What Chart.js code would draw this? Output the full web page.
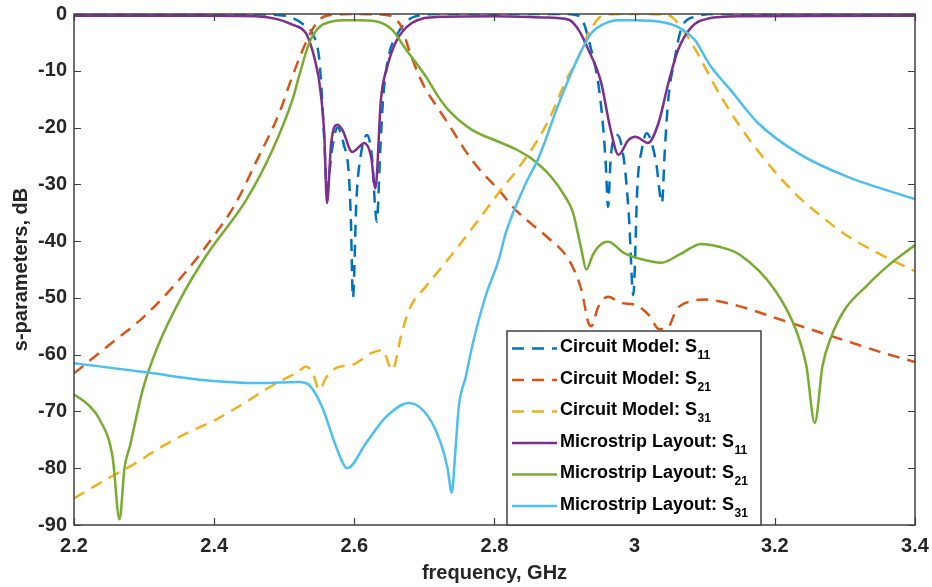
<!DOCTYPE html>
<html>
<head>
<meta charset="utf-8">
<title>s-parameters</title>
<script src="https://cdn.jsdelivr.net/npm/chart.js@4/dist/chart.umd.min.js"></script>
<style>
    body { margin: 0; background: #fff; }
    canvas { display: block; }
</style>
</head>
<body>
<canvas id="sparamChart" width="932" height="587"></canvas>
<script>
// axis ticks
const xTicks = [2.2, 2.4, 2.6, 2.8, 3.0, 3.2, 3.4];
const yTicks = [0, -10, -20, -30, -40, -50, -60, -70, -80, -90];

// legend text
const seriesNames = ["Circuit Model: S", "Circuit Model: S", "Circuit Model: S",
    "Microstrip Layout: S", "Microstrip Layout: S", "Microstrip Layout: S"];
const seriesSubs = ["11", "21", "31", "11", "21", "31"];

// Circuit model S11 (dashed)
const circS11Freq = [2.2, 2.35, 2.48, 2.51, 2.527, 2.54, 2.55, 2.554, 2.557, 2.561, 2.568, 2.576, 2.585, 2.592, 2.595, 2.598, 2.603, 2.609, 2.618, 2.625, 2.632, 2.637, 2.641, 2.648, 2.662, 2.685, 2.72, 2.9, 2.912, 2.925, 2.938, 2.948, 2.955, 2.959, 2.962, 2.966, 2.975, 2.985, 2.992, 2.998, 3.004, 3.01, 3.017, 3.03, 3.039, 3.043, 3.048, 3.057, 3.066, 3.085, 3.12, 3.4];
const circS11dB = [0, 0, -0.1, -0.6, -1.8, -3.4, -8, -15, -22, -31, -24, -20, -23, -28, -36, -50, -32.7, -25, -21.3, -25, -36.6, -24, -15, -8, -3.4, -0.5, 0, 0, -0.1, -1, -6.3, -12.2, -19.9, -27, -34, -25, -21.3, -26, -36, -49.5, -30, -24, -21, -25.7, -33.3, -24, -15, -8, -2.8, -0.5, 0, 0];

// Circuit model S21 (dashed)
const circS21Freq = [2.2, 2.25, 2.3, 2.35, 2.4, 2.43, 2.46, 2.493, 2.51, 2.531, 2.545, 2.56, 2.6, 2.64, 2.655, 2.668, 2.678, 2.69, 2.702, 2.72, 2.74, 2.759, 2.778, 2.806, 2.83, 2.853, 2.877, 2.906, 2.924, 2.934, 2.938, 2.948, 2.962, 2.981, 3.0, 3.02, 3.035, 3.047, 3.06, 3.08, 3.1, 3.15, 3.2, 3.25, 3.3, 3.35, 3.4];
const circS21dB = [-63.3, -58.3, -53.3, -46.8, -39, -33.5, -26, -17.4, -11.5, -5, -1.8, -0.3, 0, -0.1, -0.5, -2.5, -6.3, -10.2, -13.3, -16.7, -20.5, -24.2, -27.3, -31, -34.5, -37, -39.5, -43.3, -48.6, -54.4, -55, -51.6, -49.8, -50.9, -51.2, -53, -55.5, -55.3, -52, -50.6, -50.3, -51.5, -53.5, -55.5, -57.5, -59.5, -61.3];

// Circuit model S31 (dashed)
const circS31Freq = [2.2, 2.25, 2.284, 2.32, 2.361, 2.4, 2.446, 2.475, 2.5, 2.52, 2.531, 2.541, 2.55, 2.56, 2.575, 2.597, 2.625, 2.64, 2.654, 2.668, 2.68, 2.702, 2.73, 2.777, 2.806, 2.83, 2.86, 2.88, 2.901, 2.92, 2.934, 2.958, 3.0, 3.048, 3.066, 3.09, 3.115, 3.147, 3.186, 3.228, 3.27, 3.3, 3.35, 3.4];
const circS31dB = [-85.3, -81.7, -79.4, -76.6, -73.8, -71.6, -68.3, -66, -64.3, -63, -62.1, -63.3, -66.2, -64, -62.3, -61.8, -59.7, -59.2, -62.7, -56, -51.6, -48, -43.8, -36.3, -31.5, -27.8, -22.5, -18, -12, -7.5, -3.4, -0.1, 0, -0.2, -2.3, -7, -12.8, -19.2, -25.7, -31.5, -36, -38.8, -42.3, -45.3];

// Microstrip layout S11
const msS11Freq = [2.2, 2.4, 2.46, 2.49, 2.51, 2.531, 2.54, 2.546, 2.55, 2.557, 2.561, 2.567, 2.576, 2.583, 2.597, 2.607, 2.614, 2.624, 2.63, 2.638, 2.647, 2.659, 2.682, 2.721, 2.8, 2.87, 2.906, 2.92, 2.934, 2.952, 2.965, 2.977, 2.991, 3.001, 3.019, 3.034, 3.048, 3.062, 3.081, 3.105, 3.15, 3.4];
const msS11dB = [-0.3, -0.3, -0.4, -0.9, -1.8, -3.4, -6.3, -9.3, -12, -21, -33.3, -22.7, -19.5, -20.4, -24.3, -23.4, -22.7, -25.2, -30.7, -15, -9.3, -5, -1.6, -0.5, -0.4, -0.6, -1, -2.8, -6.3, -12, -20, -24.8, -22.2, -21.6, -22.7, -19.2, -12.2, -6.3, -2.3, -0.8, -0.4, -0.3];

// Microstrip layout S21
const msS21Freq = [2.2, 2.22, 2.237, 2.255, 2.265, 2.272, 2.28, 2.298, 2.318, 2.351, 2.389, 2.446, 2.483, 2.512, 2.521, 2.536, 2.55, 2.565, 2.583, 2.61, 2.635, 2.654, 2.674, 2.702, 2.72, 2.735, 2.768, 2.806, 2.83, 2.853, 2.881, 2.901, 2.912, 2.924, 2.931, 2.94, 2.948, 2.962, 2.985, 3.01, 3.038, 3.065, 3.095, 3.12, 3.15, 3.2, 3.23, 3.245, 3.257, 3.268, 3.28, 3.3, 3.33, 3.36, 3.4];
const msS21dB = [-67, -68.8, -71.5, -78, -89, -80, -76, -66.2, -59, -50.4, -42.5, -32.7, -24, -15, -11, -5, -2.3, -1.4, -1.1, -1.1, -1.4, -2.8, -6.3, -11, -14.6, -17, -20.4, -22.5, -23.8, -25.5, -28.7, -32.2, -35, -41.5, -45, -42.5, -41, -40.1, -42.1, -43.2, -43.8, -42.3, -40.5, -41, -42.4, -48.6, -55.6, -62, -72, -62, -57, -52, -48, -44.5, -40.7];

// Microstrip layout S31
const msS31Freq = [2.2, 2.308, 2.379, 2.465, 2.521, 2.535, 2.554, 2.574, 2.59, 2.617, 2.645, 2.678, 2.706, 2.725, 2.733, 2.739, 2.744, 2.749, 2.759, 2.768, 2.787, 2.806, 2.816, 2.844, 2.863, 2.891, 2.92, 2.938, 2.952, 2.977, 3.0, 3.038, 3.062, 3.086, 3.1, 3.109, 3.137, 3.176, 3.233, 3.304, 3.4];
const msS31dB = [-61.5, -63.2, -64.4, -65, -64.8, -65.3, -69.2, -76.2, -80, -75.5, -71, -68.5, -71, -76.2, -80, -84.3, -77.3, -69.2, -63.9, -58.6, -49.8, -43.3, -38.6, -30, -25.3, -16, -7.5, -3.4, -2, -1.1, -1.1, -1.4, -2.3, -4.6, -7.5, -9.3, -13.4, -19.2, -24.5, -28.7, -32.6];

// MATLAB default colours
const colors = ["#0072BD", "#D95319", "#EDB120", "#7E2F8E", "#77AC30", "#4DBEEE"];

function zip(freq, db) {
    return freq.map((f, i) => ({ x: f, y: db[i] }));
}

function makeDataset(i, freq, db, dashed) {
    return {
        label: seriesNames[i] + seriesSubs[i],
        data: zip(freq, db),
        borderColor: colors[i],
        borderWidth: 2.5,
        borderDash: dashed ? [12, 8] : [],
        pointRadius: 0,
        fill: false,
        cubicInterpolationMode: "monotone",
        order: 6 - i
    };
}

const axisColor = "#404040";

// box round the plot with inward ticks, like matlab
const boxPlugin = {
    id: "axesBox",
    afterDraw(chart) {
        let ctx = chart.ctx;
        let a = chart.chartArea;
        let xs = chart.scales.x;
        let ys = chart.scales.y;
        ctx.save();
        ctx.strokeStyle = axisColor;
        ctx.lineWidth = 1.5;
        ctx.setLineDash([]);
        ctx.strokeRect(a.left, a.top, a.right - a.left, a.bottom - a.top);
        ctx.lineWidth = 1.2;
        ctx.beginPath();
        xTicks.forEach(t => {
            let px = Math.round(xs.getPixelForValue(t)) + 0.5;
            ctx.moveTo(px, a.bottom); ctx.lineTo(px, a.bottom - 7);
            ctx.moveTo(px, a.top); ctx.lineTo(px, a.top + 7);
        });
        yTicks.forEach(t => {
            let py = Math.round(ys.getPixelForValue(t)) + 0.5;
            ctx.moveTo(a.left, py); ctx.lineTo(a.left + 7, py);
            ctx.moveTo(a.right, py); ctx.lineTo(a.right - 7, py);
        });
        ctx.stroke();
        ctx.restore();
    }
};

// legend with subscripts, drawn over the plot
const legendPlugin = {
    id: "subLegend",
    afterDraw(chart) {
        let ctx = chart.ctx;
        let a = chart.chartArea;
        let left = a.left + 433, top = a.top + 317, right = a.left + 687, bottom = a.bottom;
        ctx.save();
        ctx.fillStyle = "#fff";
        ctx.fillRect(left, top, right - left, bottom - top);
        ctx.strokeStyle = axisColor;
        ctx.lineWidth = 1.5;
        ctx.strokeRect(left, top, right - left, bottom - top);

        chart.data.datasets.forEach((ds, i) => {
            let yy = top + 16.5 + i * 31.5;
            ctx.strokeStyle = ds.borderColor;
            ctx.lineWidth = ds.borderWidth;
            ctx.setLineDash(ds.borderDash);
            ctx.beginPath();
            ctx.moveTo(left + 5, yy + 1);
            ctx.lineTo(left + 50, yy + 1);
            ctx.stroke();
            ctx.setLineDash([]);

            ctx.fillStyle = "#000";
            ctx.textBaseline = "middle";
            ctx.textAlign = "left";
            ctx.font = "bold 18px 'Liberation Sans', Arial, sans-serif";
            ctx.fillText(seriesNames[i], left + 53, yy);
            let w = ctx.measureText(seriesNames[i]).width;
            ctx.font = "bold 12px 'Liberation Sans', Arial, sans-serif";
            ctx.fillText(seriesSubs[i], left + 53 + w + 0.5, yy + 8.5);
        });
        ctx.restore();
    }
};

document.addEventListener("DOMContentLoaded", function() {
    let ctx = document.getElementById("sparamChart").getContext("2d");
    Chart.defaults.font.family = "'Liberation Sans', Arial, sans-serif";

    new Chart(ctx, {
        type: "line",
        data: {
            datasets: [
                makeDataset(0, circS11Freq, circS11dB, true),
                makeDataset(1, circS21Freq, circS21dB, true),
                makeDataset(2, circS31Freq, circS31dB, true),
                makeDataset(3, msS11Freq, msS11dB, false),
                makeDataset(4, msS21Freq, msS21dB, false),
                makeDataset(5, msS31Freq, msS31dB, false)
            ]
        },
        options: {
            responsive: false,
            animation: false,
            layout: { padding: { left: 0, right: 17, top: 14, bottom: 0 } },
            plugins: {
                legend: { display: false },
                tooltip: { enabled: false }
            },
            scales: {
                x: {
                    type: "linear",
                    min: 2.2,
                    max: 3.4,
                    afterBuildTicks: scale => { scale.ticks = xTicks.map(v => ({ value: v })); },
                    afterFit: scale => {
                        scale.height = 62;
                        scale.paddingLeft = 0;
                        scale.paddingRight = 0;
                    },
                    grid: { display: false, drawTicks: false },
                    border: { display: false },
                    ticks: {
                        padding: 9,
                        color: "#262626",
                        font: { size: 20, weight: "bold" },
                        maxRotation: 0,
                        callback: v => String(Math.round(v * 10) / 10)
                    },
                    title: {
                        display: true,
                        text: "frequency, GHz",
                        color: "#262626",
                        font: { size: 20, weight: "bold" },
                        padding: { top: 0, bottom: 2 }
                    }
                },
                y: {
                    type: "linear",
                    min: -90,
                    max: 0,
                    afterBuildTicks: scale => { scale.ticks = yTicks.map(v => ({ value: v })); },
                    afterFit: scale => {
                        scale.width = 74;
                        scale.paddingTop = 0;
                        scale.paddingBottom = 0;
                    },
                    grid: { display: false, drawTicks: false },
                    border: { display: false },
                    ticks: {
                        padding: 7,
                        color: "#262626",
                        font: { size: 20, weight: "bold" }
                    },
                    title: {
                        display: true,
                        text: "s-parameters, dB",
                        color: "#262626",
                        font: { size: 20, weight: "bold" },
                        padding: { top: 9.5, bottom: 0 }
                    }
                }
            }
        },
        plugins: [boxPlugin, legendPlugin]
    });
});
</script>
</body>
</html>
